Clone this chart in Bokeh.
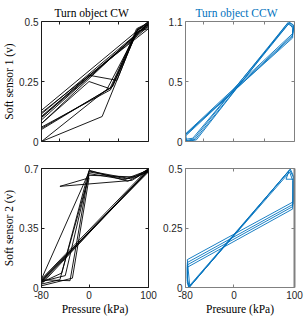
from bokeh.plotting import figure
from bokeh.models import Range1d, FixedTicker, LinearAxis
from bokeh.layouts import gridplot
from bokeh.embed import file_html
from bokeh.resources import INLINE

# ---------------- data ----------------
# Turn object CW, soft sensor 1
cw1_p = [-80, 22, 49, 82, 100, -80, -80, 0, 47, 80, 100, -80, -80, 0, 35, 78, 100, -80,
         -80, 38, 80, 100, -80, -80, 36, 82, 100, -80, -80, 40, 81, 100, -80, -80, 30, 79, 100, -80]
cw1_v = [0.00, 0.104, 0.268, 0.47, 0.49, 0.115, 0.10, 0.276, 0.255, 0.46, 0.50, 0.13, 0.075, 0.25, 0.22, 0.45, 0.48, 0.10,
         0.055, 0.225, 0.47, 0.495, 0.075, 0.06, 0.215, 0.46, 0.47, 0.12, 0.05, 0.23, 0.465, 0.485, 0.105, 0.00, 0.217, 0.45, 0.49, 0.09]

# Turn object CCW, soft sensor 1
ccw1_p = [-80, 97, 99, 92, -64, -79, -80, 97, 98, 90, -66, -80, -80, 96, 99, 88, -62, -78,
          -80, 97, 97, 91, -68, -80]
ccw1_v = [0.070, 0.990, 1.060, 1.090, 0.020, 0.000, 0.060, 0.975, 1.070, 1.095, 0.025, 0.005, 0.050, 0.960, 1.050, 1.080, 0.015, 0.000,
          0.065, 0.950, 1.040, 1.085, 0.030, 0.020]

# Turn object CW, soft sensor 2
cw2_p = [-80, 0, 62, 100, -80, -80, -49, 0, 65, 100, -80, -80, -46, 0, 80, 100, -80,
         -80, -28, 0, -49, 72, 100, -80, -80, -40, 0, 60, 100, -80, -80, -32, 0, 70, 100, -80]
cw2_v = [0.05, 0.68, 0.64, 0.69, 0.04, 0.02, 0.046, 0.69, 0.625, 0.685, 0.03, 0.03, 0.085, 0.66, 0.65, 0.70, 0.05,
         0.01, 0.055, 0.645, 0.595, 0.63, 0.69, 0.035, 0.035, 0.07, 0.67, 0.635, 0.68, 0.045, 0.045, 0.04, 0.685, 0.64, 0.695, 0.02]

# Turn object CCW, soft sensor 2
ccw2_p = [-77, 98, 98, 93, -74, -77, -77, 98, 99, 92, -75, -77, -77, 97, 98, 86, 91, -74, -77,
          -77, 97, 97, 92, -73, -77]
ccw2_v = [0.117, 0.360, 0.470, 0.498, 0.000, 0.040, 0.105, 0.350, 0.460, 0.494, 0.003, 0.020, 0.095, 0.340, 0.455, 0.455, 0.490, 0.000, 0.030,
          0.085, 0.330, 0.450, 0.485, 0.005, 0.117]

x_ticks_top = [-50, 0, 50]
x_ticks_bottom = [-80, 0, 100]
x_labels_bottom = ["-80", "0", "100"]
y1_cw_ticks = [0, 0.25, 0.5]
y1_cw_labels = ["0", "0.25", "0.5"]
y1_ccw_ticks = [0, 0.55, 1.1]
y1_ccw_labels = ["0", "0.5", "1.1"]
y2_cw_ticks = [0, 0.35, 0.7]
y2_cw_labels = ["0", "0.35", "0.7"]
y2_ccw_ticks = [0, 0.25, 0.5]
y2_ccw_labels = ["0", "0.25", "0.5"]

BLACK = "#000000"
BLUE = "#0072BD"


def style_axis(ax, ticks, color, labels=None, width=1):
    ax.ticker = FixedTicker(ticks=ticks)
    ax.axis_line_color = color
    ax.axis_line_width = width
    ax.major_tick_line_color = color
    ax.minor_tick_line_color = None
    ax.major_tick_in = 3
    ax.major_tick_out = 0
    ax.major_label_text_font = "Liberation Sans"
    ax.major_label_text_color = "#262626"
    if labels is None:
        ax.major_label_text_font_size = "0px"
        ax.major_label_standoff = 0
    else:
        ax.major_label_text_font_size = "10px"
        ax.major_label_standoff = 3
        ax.major_label_overrides = {t: s for t, s in zip(ticks, labels)}
    ax.axis_label_text_font = "Liberation Serif"
    ax.axis_label_text_font_size = "11.5px"
    ax.axis_label_text_font_style = "normal"
    ax.axis_label_text_color = BLACK
    ax.axis_label_standoff = 1


def make(xs, ys, color, yr, xticks, xlabels, yticks, ylabels, w, h, borders, frame_color,
         title=None, title_color=BLACK, title_offset=0, xlabel=None, ylabel=None, right_width=1):
    p = figure(width=w, height=h, x_range=Range1d(-80, 100), y_range=Range1d(*yr),
               output_backend="svg", toolbar_location=None,
               min_border_left=borders[0], min_border_right=borders[1],
               min_border_top=borders[2], min_border_bottom=borders[3])
    p.grid.visible = False
    p.outline_line_color = None
    p.background_fill_color = "white"
    p.border_fill_color = "white"
    style_axis(p.xaxis[0], xticks, frame_color, xlabels)
    style_axis(p.yaxis[0], yticks, frame_color, ylabels)
    if xlabel:
        p.xaxis.axis_label = xlabel
    if ylabel:
        p.yaxis.axis_label = ylabel
    top = LinearAxis()
    style_axis(top, xticks, frame_color)
    p.add_layout(top, "above")
    right = LinearAxis()
    style_axis(right, yticks, frame_color, width=right_width)
    p.add_layout(right, "right")
    if title:
        p.title.text = title
        p.title.text_font = "Liberation Serif"
        p.title.text_font_size = "11.5px"
        p.title.text_font_style = "normal"
        p.title.text_color = title_color
        p.title.align = "left"
        p.title.offset = title_offset
        p.title.standoff = 6
    p.line(xs, ys, line_color=color, line_width=0.9)
    return p


W1, W2 = 160, 144
H1, H2 = 154, 163

tl = make(cw1_p, cw1_v, BLACK, (0, 0.5), x_ticks_top, None, y1_cw_ticks, y1_cw_labels,
          W1, H1, (37, 12, 21, 13), "#1a1a1a", title="Turn object CW", title_offset=13,
          ylabel="Soft sensor 1 (v)")
tr = make(ccw1_p, ccw1_v, BLUE, (0, 1.1), x_ticks_top, None, y1_ccw_ticks, y1_ccw_labels,
          W2, H1, (23, 10, 21, 13), "#808080", title="Turn object CCW", title_color=BLUE,
          title_offset=10)
bl = make(cw2_p, cw2_v, BLACK, (0, 0.7), x_ticks_bottom, x_labels_bottom, y2_cw_ticks, y2_cw_labels,
          W1, H2, (37, 12, 14, 30), "#1a1a1a", xlabel="Pressure (kPa)", ylabel="Soft sensor 2 (v)")
br = make(ccw2_p, ccw2_v, BLUE, (0, 0.5), x_ticks_bottom, x_labels_bottom, y2_ccw_ticks, y2_ccw_labels,
          W2, H2, (23, 10, 14, 30), "#808080", xlabel="Presuure (kPa)", right_width=2)

grid = gridplot([[tl, tr], [bl, br]], toolbar_location=None)

open("out.html", "w").write(file_html(grid, INLINE))
